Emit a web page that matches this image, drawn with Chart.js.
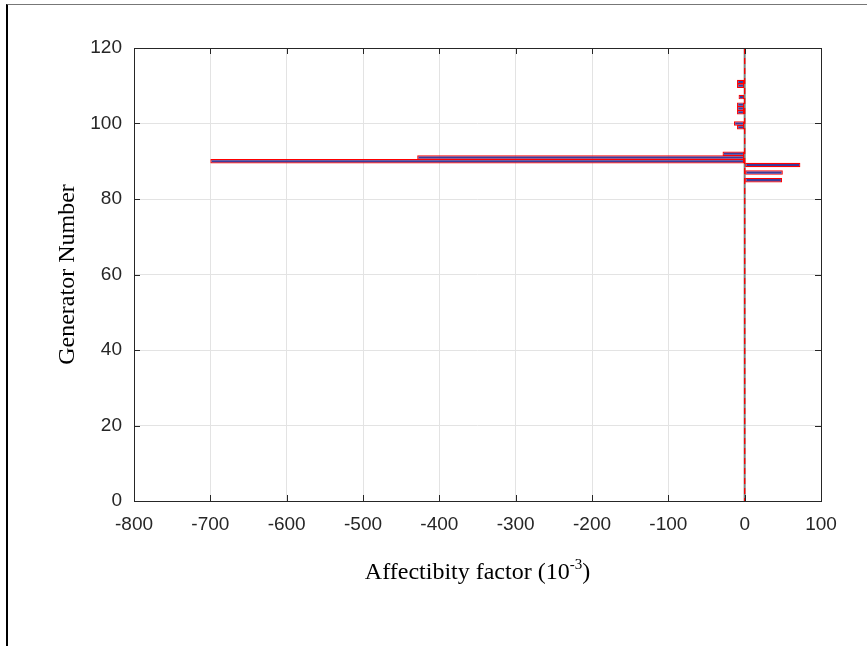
<!DOCTYPE html>
<html>
<head>
<meta charset="utf-8">
<script src="https://cdn.jsdelivr.net/npm/chart.js@4.4.1/dist/chart.umd.min.js"></script>
<style>
  html, body { margin: 0; padding: 0; background: #fff; }
  #wrap { position: relative; width: 867px; height: 646px; overflow: hidden; }
  #frame { position: absolute; left: 6px; top: 4px; right: -10px; bottom: -10px;
           border-left: 2px solid #000; border-top: 1px solid #777; }
  canvas { position: absolute; left: 0; top: 0; }
</style>
</head>
<body>
<div id="wrap">
  <canvas id="chart" width="867" height="646"></canvas>
  <div id="frame"></div>
</div>
<script>
// generator number -> affectibity factor (x 10^-3)
const generators  = [85, 87, 89, 90, 91, 92, 99, 100, 103, 104, 105, 107, 110, 111];
const affectibity = [49, 50, 73, -700, -429, -29, -10, -14, -10, -10, -10, -8, -10, -10];
const xTicks = [-800, -700, -600, -500, -400, -300, -200, -100, 0, 100];
const yTicks = [0, 20, 40, 60, 80, 100, 120];

const xTitle = 'Affectibity factor (10';
const xTitleSup = '-3';
const yTitle = 'Generator Number';

const axisColor = '#262626';
const tickFont = { family: '"Liberation Sans", Arial, sans-serif', size: 19 };
const titleFamily = '"Liberation Serif", "Times New Roman", serif';

const frameAxes = {
    id: 'frameAxes',
    beforeDatasetsDraw(chart) {
        // bar baseline at zero
        const { ctx, chartArea: a, scales: { x } } = chart;
        const x0 = x.getPixelForValue(0);
        ctx.save();
        ctx.strokeStyle = '#7f7f7f';
        ctx.lineWidth = 2;
        ctx.beginPath();
        ctx.moveTo(x0, a.top);
        ctx.lineTo(x0, a.bottom);
        ctx.stroke();
        ctx.restore();
    },
    afterDatasetsDraw(chart) {
        const { ctx, chartArea: a, scales: { x, y } } = chart;
        ctx.save();

        // red dashed zero line
        const x0 = x.getPixelForValue(0);
        ctx.strokeStyle = '#ff0000';
        ctx.lineWidth = 1.3;
        ctx.setLineDash([6, 4]);
        ctx.beginPath();
        ctx.moveTo(x0, a.top);
        ctx.lineTo(x0, a.bottom);
        ctx.stroke();
        ctx.setLineDash([]);

        // box + inward ticks
        ctx.strokeStyle = axisColor;
        ctx.lineWidth = 1;
        ctx.strokeRect(Math.round(a.left) + 0.5, Math.round(a.top) + 0.5,
                       Math.round(a.right - a.left), Math.round(a.bottom - a.top));
        const len = 6;
        ctx.beginPath();
        xTicks.forEach(v => {
            const px = Math.round(x.getPixelForValue(v)) + 0.5;
            ctx.moveTo(px, a.bottom); ctx.lineTo(px, a.bottom - len);
            ctx.moveTo(px, a.top); ctx.lineTo(px, a.top + len);
        });
        yTicks.forEach(v => {
            const py = Math.round(y.getPixelForValue(v)) + 0.5;
            ctx.moveTo(a.left, py); ctx.lineTo(a.left + len, py);
            ctx.moveTo(a.right, py); ctx.lineTo(a.right - len, py);
        });
        ctx.stroke();

        // axis titles
        ctx.fillStyle = '#000';
        ctx.textBaseline = 'middle';
        ctx.textAlign = 'center';
        ctx.save();
        ctx.translate(a.left - 66, (a.top + a.bottom) / 2);
        ctx.rotate(-Math.PI / 2);
        ctx.font = '24px ' + titleFamily;
        ctx.fillText(yTitle, 0, 0);
        ctx.restore();

        ctx.textAlign = 'left';
        ctx.textBaseline = 'alphabetic';
        ctx.font = '24px ' + titleFamily;
        const w1 = ctx.measureText(xTitle).width;
        const w3 = ctx.measureText(')').width;
        ctx.font = '15px ' + titleFamily;
        const w2 = ctx.measureText(xTitleSup).width;
        const total = w1 + w2 + w3;
        let tx = (a.left + a.right) / 2 - total / 2;
        const base = a.bottom + 78;
        ctx.font = '24px ' + titleFamily;
        ctx.fillText(xTitle, tx, base);
        tx += w1;
        ctx.font = '15px ' + titleFamily;
        ctx.fillText(xTitleSup, tx, base - 10);
        tx += w2;
        ctx.font = '24px ' + titleFamily;
        ctx.fillText(')', tx, base);

        ctx.restore();
    }
};

new Chart(document.getElementById('chart'), {
    type: 'bar',
    data: {
        datasets: [{
            data: generators.map((g, i) => ({ x: affectibity[i], y: g })),
            backgroundColor: '#3b3b9b',
            borderColor: '#ff0000',
            borderWidth: 1.2,
            borderSkipped: false,
            inflateAmount: 0,
            barThickness: 4.5
        }]
    },
    options: {
        indexAxis: 'y',
        responsive: false,
        animation: false,
        devicePixelRatio: 1,
        layout: { padding: { top: 48, right: 46, left: 0, bottom: 0 } },
        plugins: { legend: { display: false }, tooltip: { enabled: false } },
        scales: {
            x: {
                type: 'linear',
                min: -800,
                max: 100,
                afterBuildTicks: s => { s.ticks = xTicks.map(v => ({ value: v })); },
                afterFit: s => { s.height = 145; },
                grid: { color: '#e3e3e3', drawTicks: false },
                border: { display: false },
                ticks: { color: axisColor, font: tickFont, padding: 12, maxRotation: 0 }
            },
            y: {
                type: 'linear',
                min: 0,
                max: 120,
                offset: false,
                afterBuildTicks: s => { s.ticks = yTicks.map(v => ({ value: v })); },
                afterFit: s => { s.width = 134; },
                grid: { color: '#e3e3e3', drawTicks: false, offset: false },
                border: { display: false },
                ticks: { color: axisColor, font: tickFont, padding: 12 }
            }
        }
    },
    plugins: [frameAxes]
});
</script>
</body>
</html>
